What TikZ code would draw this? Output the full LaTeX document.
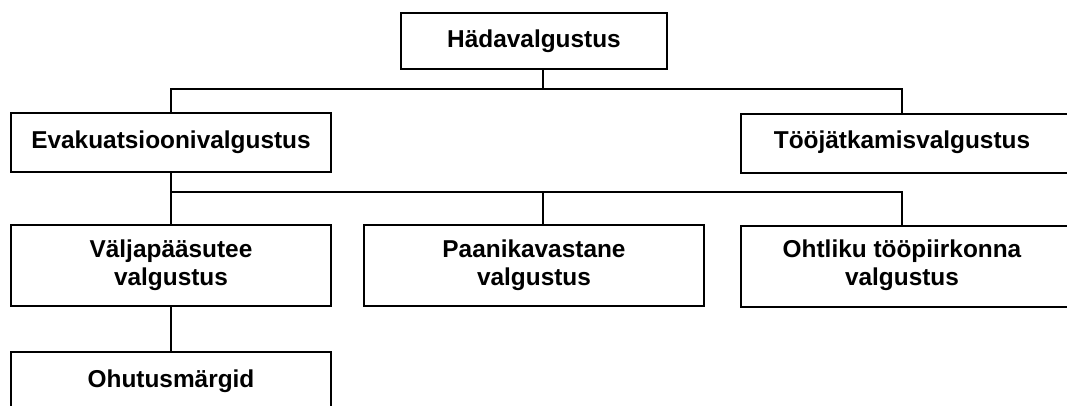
\documentclass[tikz,border=0pt]{standalone}
\usepackage{fontspec}
\setmainfont{Liberation Sans}
\begin{document}
\begin{tikzpicture}[x=1pt,y=-1pt,
  box/.style={draw=black, line width=1.6pt, fill=white, inner sep=0pt},
  lbl/.style={font=\fontsize{24.4}{28}\selectfont\bfseries, align=center, inner sep=0pt},
  conn/.style={draw=black, line width=1.6pt}]
\useasboundingbox (0,0) rectangle (1067,405);
\fill[white] (0,0) rectangle (1067,405);
\clip (0,0) rectangle (1067,405);
% boxes
\node[box, lbl, minimum width=266pt, minimum height=56pt] (hada) at (534,41) {Hädavalgustus};
\node[box, lbl, minimum width=320pt, minimum height=59pt] (evak) at (171,142.5) {Evakuatsioonivalgustus};
\node[box, minimum width=340pt, minimum height=59pt, anchor=north west] (too) at (740,113) {};
\node[lbl] (toolbl) at (902,142.5) {Tööjätkamisvalgustus};
\node[box, lbl, minimum width=320pt, minimum height=81pt] (valja) at (171,265.5) {Väljapääsutee\\valgustus};
\node[box, lbl, minimum width=340pt, minimum height=81pt] (paan) at (534,265.5) {Paanikavastane\\valgustus};
\node[box, minimum width=340pt, minimum height=81pt, anchor=north west] (oht) at (740,225) {};
\node[lbl] (ohtlbl) at (902,265.5) {Ohtliku tööpiirkonna\\valgustus};
\node[box, lbl, minimum width=320pt, minimum height=59pt] (ohut) at (171,381.5) {Ohutusmärgid};
% connectors
\coordinate (j1) at (543,89);
\coordinate (j2) at (171,192);
\coordinate (j3) at (543,192);
\draw[conn] (hada.south -| j1) -- (j1);
\draw[conn] (evak.north) -- (evak.north |- j1) -- (toolbl |- j1) -- (toolbl |- too.north);
\draw[conn] (evak.south) -- (valja.north);
\draw[conn] (j2) -- (ohtlbl |- j2) -- (ohtlbl |- oht.north);
\draw[conn] (j3) -- (paan.north -| j3);
\draw[conn] (valja.south) -- (ohut.north);
\end{tikzpicture}
\end{document}
